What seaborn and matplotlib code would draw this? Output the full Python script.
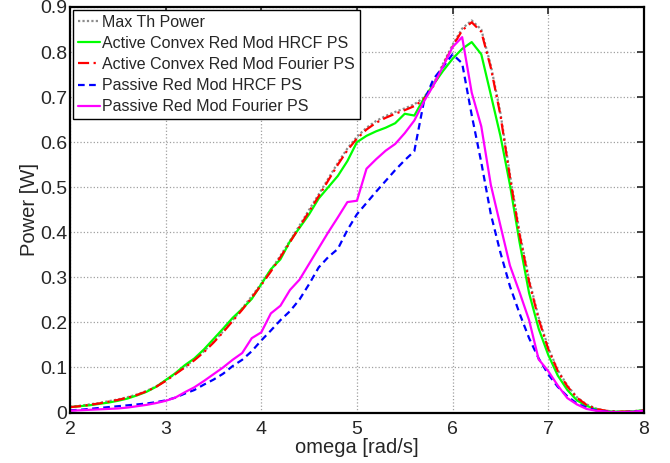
import numpy as np
import pandas as pd
import seaborn as sns
import matplotlib
matplotlib.use("Agg")
import matplotlib.pyplot as plt

# omega grid (rad/s)
omega = [round(2.0 + 0.1 * i, 1) for i in range(61)]

max_th = [0.013, 0.015, 0.018, 0.021, 0.025, 0.029, 0.034, 0.040, 0.048, 0.058,
          0.071, 0.086, 0.101, 0.118, 0.136, 0.157, 0.180, 0.205, 0.231, 0.258,
          0.286, 0.316, 0.348, 0.381, 0.415, 0.450, 0.484, 0.519, 0.554, 0.586,
          0.612, 0.632, 0.647, 0.658, 0.667, 0.675, 0.684, 0.699, 0.729, 0.774,
          0.816, 0.852, 0.870, 0.850, 0.770, 0.665, 0.528, 0.400, 0.295, 0.211,
          0.144, 0.094, 0.060, 0.034, 0.018, 0.009, 0.004, 0.002, 0.002, 0.003, 0.005]

act_hrcf = [0.012, 0.014, 0.016, 0.019, 0.022, 0.026, 0.031, 0.038, 0.046, 0.057,
            0.072, 0.087, 0.105, 0.120, 0.140, 0.163, 0.186, 0.210, 0.230, 0.252,
            0.285, 0.318, 0.340, 0.380, 0.410, 0.440, 0.475, 0.500, 0.525, 0.558,
            0.600, 0.614, 0.624, 0.632, 0.642, 0.663, 0.659, 0.697, 0.728, 0.758,
            0.785, 0.807, 0.822, 0.795, 0.705, 0.614, 0.505, 0.378, 0.265, 0.186,
            0.128, 0.082, 0.050, 0.027, 0.015, 0.007, 0.003, 0.002, 0.002, 0.003, 0.005]

act_fourier = [0.012, 0.014, 0.017, 0.020, 0.024, 0.028, 0.033, 0.039, 0.047, 0.057,
               0.070, 0.085, 0.100, 0.116, 0.134, 0.155, 0.178, 0.203, 0.228, 0.255,
               0.283, 0.313, 0.345, 0.378, 0.412, 0.446, 0.480, 0.515, 0.550, 0.582,
               0.608, 0.628, 0.643, 0.654, 0.663, 0.671, 0.680, 0.695, 0.725, 0.770,
               0.812, 0.848, 0.866, 0.845, 0.765, 0.660, 0.522, 0.395, 0.290, 0.207,
               0.141, 0.092, 0.058, 0.033, 0.017, 0.008, 0.004, 0.002, 0.002, 0.003, 0.005]

pas_hrcf = [0.005, 0.006, 0.008, 0.010, 0.012, 0.014, 0.016, 0.018, 0.020, 0.023,
            0.027, 0.033, 0.042, 0.050, 0.062, 0.073, 0.086, 0.103, 0.117, 0.136,
            0.160, 0.182, 0.205, 0.225, 0.251, 0.285, 0.322, 0.345, 0.363, 0.405,
            0.440, 0.465, 0.490, 0.514, 0.538, 0.560, 0.580, 0.690, 0.740, 0.767,
            0.795, 0.775, 0.660, 0.555, 0.440, 0.355, 0.280, 0.220, 0.165, 0.120,
            0.085, 0.057, 0.036, 0.020, 0.011, 0.005, 0.002, 0.001, 0.001, 0.002, 0.004]

pas_fourier = [0.004, 0.005, 0.006, 0.007, 0.008, 0.009, 0.011, 0.014, 0.017, 0.021,
               0.026, 0.033, 0.045, 0.056, 0.070, 0.085, 0.100, 0.117, 0.132, 0.165,
               0.178, 0.220, 0.237, 0.272, 0.295, 0.330, 0.365, 0.400, 0.433, 0.467,
               0.470, 0.541, 0.562, 0.581, 0.596, 0.620, 0.648, 0.690, 0.726, 0.768,
               0.811, 0.833, 0.710, 0.635, 0.505, 0.415, 0.326, 0.267, 0.205, 0.118,
               0.092, 0.060, 0.032, 0.018, 0.008, 0.004, 0.002, 0.001, 0.001, 0.002, 0.004]

names = ["Max Th Power", "Active Convex Red Mod HRCF PS", "Active Convex Red Mod Fourier PS",
         "Passive Red Mod HRCF PS", "Passive Red Mod Fourier PS"]
series = [max_th, act_hrcf, act_fourier, pas_hrcf, pas_fourier]

df = pd.concat([pd.DataFrame({"omega": omega, "power": s, "series": n})
                for n, s in zip(names, series)], ignore_index=True)

sns.set_style("white")
plt.rcParams['font.family'] = ['Liberation Sans', 'DejaVu Sans']

palette = dict(zip(names, ["#8c8c8c", "#00ff00", "#ff0000", "#0000ff", "#ff00ff"]))
dashes = dict(zip(names, [(1, 1), "", (5, 2, 1, 2), (3, 2), ""]))

fig = plt.figure(figsize=(6.7, 4.63), dpi=100)
ax = fig.add_axes([0.1045, 0.109, 0.8565, 0.876])
sns.lineplot(data=df, x="omega", y="power", hue="series", style="series",
             palette=palette, dashes=dashes, linewidth=1.6, sort=False, ax=ax)

ax.set_xlim(2, 8)
ax.set_ylim(0, 0.9)
ax.set_xticks(range(2, 9))
ax.set_yticks(np.arange(0, 0.91, 0.1))
ax.set_yticklabels(["0", "0.1", "0.2", "0.3", "0.4", "0.5", "0.6", "0.7", "0.8", "0.9"])
ax.tick_params(direction="in", top=True, right=True, length=5, width=1.2, labelsize=14)
ax.tick_params(axis="x", pad=6)
ax.tick_params(axis="y", pad=2)
ax.grid(True, linestyle=":", color="#a0a0a0", linewidth=0.9)
for sp in ax.spines.values():
    sp.set_linewidth(1.6)
    sp.set_color("black")
ax.set_xlabel("omega [rad/s]", fontsize=14.5, labelpad=0)
ax.set_ylabel("Power [W]", fontsize=14.5, labelpad=1)

leg = ax.legend(loc="upper left", fontsize=11.5, frameon=True, fancybox=False,
                framealpha=1, edgecolor="black", handlelength=1.4, handletextpad=0.12,
                borderpad=0.3, labelspacing=0.38, borderaxespad=0.2)
leg.get_frame().set_linewidth(1.0)

fig.savefig("out.png", dpi=100)
